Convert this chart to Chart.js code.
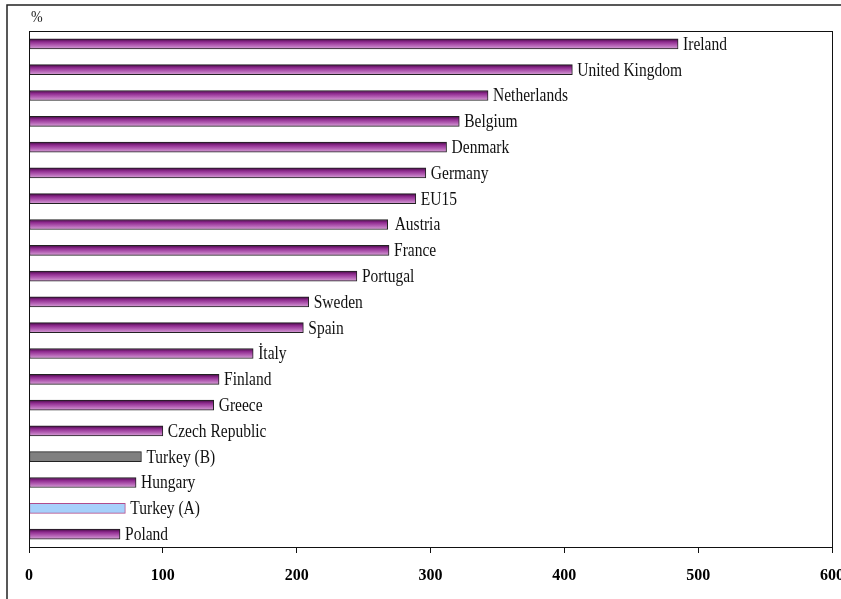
<!DOCTYPE html>
<html>
<head>
<meta charset="utf-8">
<title>Bar chart</title>
<script src="https://cdn.jsdelivr.net/npm/chart.js@4/dist/chart.umd.min.js"></script>
<style>
  html, body { margin: 0; padding: 0; background: #fff; }
  canvas { display: block; }
</style>
</head>
<body>
<canvas id="chart" width="841" height="599"></canvas>
<script>
// data
const categories = [
  'Ireland', 'United Kingdom', 'Netherlands', 'Belgium', 'Denmark',
  'Germany', 'EU15', 'Austria', 'France', 'Portugal',
  'Sweden', 'Spain', 'İtaly', 'Finland', 'Greece',
  'Czech Republic', 'Turkey (B)', 'Hungary', 'Turkey (A)', 'Poland'
];
const values = [
  485, 406, 343, 321.5, 312,
  296.5, 289, 268, 269, 245,
  209, 205, 167.5, 142, 138,
  100, 84, 80, 72, 68
];
const xTicks = [0, 100, 200, 300, 400, 500, 600];
const unitLabel = '%';

const SERIF = '"Liberation Serif", "Times New Roman", serif';

// purple bars get a vertical gradient per bar, the two Turkey bars are flat
function barFill(ctx) {
  const label = categories[ctx.dataIndex];
  if (label === 'Turkey (B)') return '#808080';
  if (label === 'Turkey (A)') return '#a6d0fb';
  const chart = ctx.chart;
  const yScale = chart.scales.y;
  const yc = yScale ? yScale.getPixelForValue(ctx.dataIndex) : NaN;
  if (!Number.isFinite(yc)) return '#a050a0';
  const g = chart.ctx.createLinearGradient(0, yc - 5, 0, yc + 5);
  g.addColorStop(0, '#420a42');
  g.addColorStop(0.3, '#8e2a8e');
  g.addColorStop(0.65, '#b460b4');
  g.addColorStop(1, '#d6a2d6');
  return g;
}
function barBorder(ctx) {
  const label = categories[ctx.dataIndex];
  if (label === 'Turkey (A)') return '#b04c8c';
  return '#222';
}

// text in the original is a little stretched vertically
function tallText(c, str, x, y, sy) {
  c.save();
  c.translate(x, y);
  c.scale(1, sy);
  c.fillText(str, 0, 0);
  c.restore();
}

// outer frame, plot border, % label and the country names at bar ends
const decor = {
  id: 'decor',
  afterDraw(chart) {
    const c = chart.ctx;
    const a = chart.chartArea;
    c.save();
    // outer frame (top + left only visible)
    c.strokeStyle = '#222';
    c.lineWidth = 1.5;
    c.beginPath();
    c.moveTo(7, 599);
    c.lineTo(7, 5);
    c.lineTo(841, 5);
    c.stroke();
    // plot area box
    c.strokeStyle = '#111';
    c.lineWidth = 1;
    const l = Math.round(a.left) + 0.5, t = Math.round(a.top) + 0.5;
    const r = Math.round(a.right) + 0.5, b = Math.round(a.bottom) + 0.5;
    c.strokeRect(l, t, r - l, b - t);
    // unit label
    c.fillStyle = '#222';
    c.font = '14px ' + SERIF;
    c.textBaseline = 'middle';
    c.textAlign = 'left';
    tallText(c, unitLabel, 31, 18, 1.15);
    // category names
    c.font = '15.5px ' + SERIF;
    c.fillStyle = '#111';
    const meta = chart.getDatasetMeta(0);
    meta.data.forEach((bar, i) => {
      const gap = categories[i] === 'Austria' ? 7 : 5;
      tallText(c, categories[i], bar.x + gap, bar.y + 1, 1.2);
    });
    c.restore();
  }
};

new Chart(document.getElementById('chart'), {
  type: 'bar',
  data: {
    labels: categories,
    datasets: [{
      data: values,
      backgroundColor: barFill,
      borderColor: barBorder,
      borderWidth: 1,
      borderSkipped: false,
      barThickness: 10
    }]
  },
  options: {
    indexAxis: 'y',
    responsive: false,
    devicePixelRatio: 1,
    animation: false,
    layout: { padding: { top: 31, right: 9, left: 0, bottom: 0 } },
    plugins: {
      legend: { display: false },
      tooltip: { enabled: false }
    },
    scales: {
      x: {
        min: 0,
        max: 600,
        afterBuildTicks(scale) {
          scale.ticks = xTicks.map(v => ({ value: v }));
        },
        ticks: {
          color: '#000',
          padding: 13,
          maxRotation: 0,
          autoSkip: false,
          font: { family: SERIF, size: 16, weight: 'bold' }
        },
        grid: {
          display: true,
          drawOnChartArea: false,
          drawTicks: true,
          tickLength: 6,
          color: '#111'
        },
        border: { display: false },
        afterFit(scale) {
          scale.height = 52;
          scale.paddingLeft = 0;
          scale.paddingRight = 0;
        }
      },
      y: {
        ticks: { display: false },
        grid: { display: false },
        border: { display: false },
        afterFit(scale) {
          scale.width = 29;
        }
      }
    }
  },
  plugins: [decor]
});
</script>
</body>
</html>
